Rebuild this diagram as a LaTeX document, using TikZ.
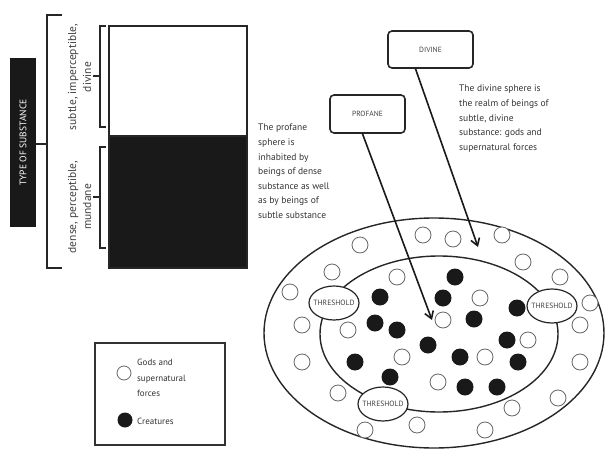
\documentclass[tikz,border=0pt]{standalone}
\usepackage{fontspec}
\setmainfont{PT Sans}
\usetikzlibrary{arrows.meta,positioning,calc,shapes.geometric}

\begin{document}
\begin{tikzpicture}[x=1pt,y=-1pt,
  txt/.style={font=\fontsize{9.5}{14.6}\selectfont,align=left,anchor=north west,inner sep=0pt,text=black!80},
  rot/.style={font=\fontsize{11.5}{15}\selectfont,align=center,rotate=90,inner sep=0pt,text=black!75},
  brk/.style={line width=1.3pt,black!85},
  sphere/.style={draw,rounded corners=4pt,line width=1.6pt,black!85,font=\fontsize{7.5}{9}\selectfont,text=black!75},
  arr/.style={-{Straight Barb[length=7pt,width=9pt]},line width=1.6pt,black!90},
  ring/.style={line width=1.4pt,black!85},
  thr/.style={draw,line width=1.2pt,black!85,fill=white},
  god/.style={draw=black!60,line width=0.8pt,fill=white},
  crt/.style={fill=black!90}]
 \useasboundingbox (0,0) rectangle (606,450);
 % type of substance
 \node[fill=black!90,minimum width=26pt,minimum height=169pt,inner sep=0pt] (type) at (23,142.5) {};
 \node[rot,text=white,font=\fontsize{9.5}{11}\selectfont] (typelbl) at (type) {TYPE OF SUBSTANCE};
 \draw[brk] (62,15) -- (47,15) -- (47,268) -- (62,268);
 \draw[brk] (type.east |- 0,144) -- (47,144);
 \draw[brk] (106,26) -- (100,26) -- (100,127) -- (106,127);
 \draw[brk] (93,76) -- (100,76);
 \draw[brk] (106,147) -- (100,147) -- (100,248) -- (106,248);
 \draw[brk] (93,197) -- (100,197);
 \node[rot] (subtle) at (79.5,77) {subtle, imperceptible,\\divine};
 \node[rot] (dense) at (79.5,207) {dense, perceptible,\\mundane};
 \draw[line width=1.4pt,black!85] (109,26) rectangle (247,136);
 \draw[line width=1.4pt,black!85,fill=black!90] (109,136) rectangle (247,268);
 % spheres
 \node[sphere,minimum width=85pt,minimum height=37pt] (divine) at (430.5,49.5) {DIVINE};
 \node[sphere,minimum width=75pt,minimum height=38pt] (profane) at (367.5,114) {PROFANE};
 \node[txt] (divtxt) at (459,85) {The divine sphere is\\the realm of beings of\\subtle, divine\\substance: gods and\\supernatural forces};
 \node[txt] (protxt) at (258,124) {The profane\\sphere is\\inhabited by\\beings of dense\\substance as well\\as by beings of\\subtle substance};
 % the world
 \draw[ring] (434,333) ellipse [x radius=170, y radius=115];
 \draw[ring] (439,334) ellipse [x radius=119, y radius=78];
 \foreach \x/\y in {360/245,423/235,453/239,502/235,523/262,560/277,590/303,580/325,
   580/362,558/398,512/408,485/430,417/425,365/430,338/393,302/362,302/325,290/292,332/272,
   397/277,348/330,402/357,438/382,443/320,480/298,485/357,528/340}
   \draw[god] (\x,\y) circle[radius=8];
 \foreach \x/\y in {455/277,443/298,380/297,375/323,397/330,428/345,474/319,517/308,
   507/340,518/362,460/357,355/362,390/377,465/387,497/387}
   \fill[crt] (\x,\y) circle[radius=8.5];
 \foreach \n/\x/\y in {L/334/303,R/552/306,B/383/404} {
   \draw[thr] (\x,\y) ellipse [x radius=25, y radius=17];
   \node[font=\fontsize{7.6}{8}\selectfont,text=black!75,inner sep=0pt] (thr\n) at (\x,\y) {THRESHOLD};
 }
 \coordinate (protip) at (432,320);
 \coordinate (divtip) at (478,247);
 \draw[arr] ($(profane.south)+(-5,0)$) -- (protip);
 \draw[arr] ($(divine.south)+(-15,0)$) -- (divtip);
 % legend
 \draw[line width=1.6pt,black!80] (95,343) rectangle (225,445);
 \draw[god] (124,373) circle[radius=7];
 \fill[crt] (125,420) circle[radius=7.5];
 \node[txt,font=\fontsize{9}{15.5}\selectfont] (gods) at (137,359) {Gods and\\supernatural\\forces};
 \node[txt,font=\fontsize{9}{15.5}\selectfont,anchor=west] (creat) at (137,421) {Creatures};
\end{tikzpicture}
\end{document}
